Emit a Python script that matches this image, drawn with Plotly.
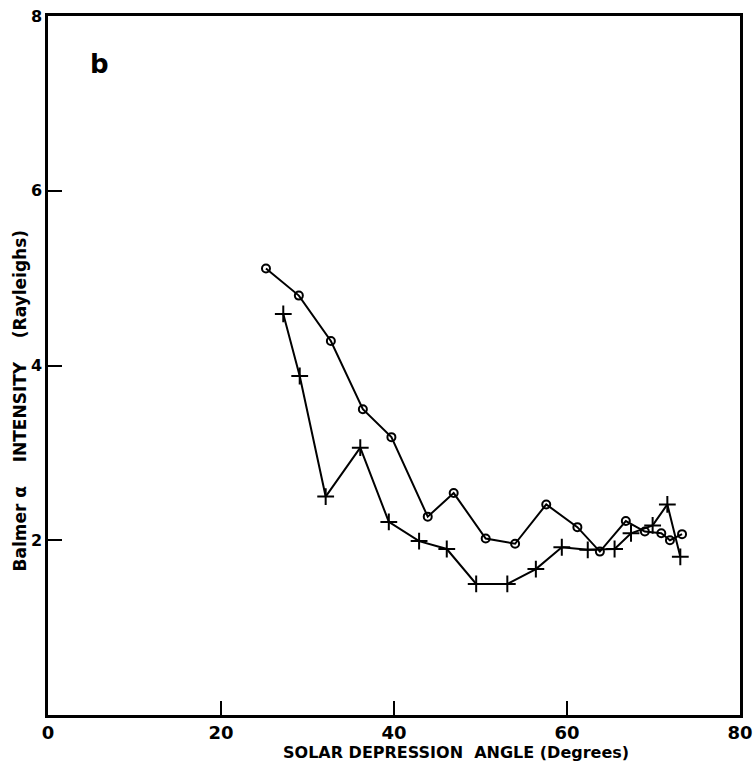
import plotly.graph_objects as go

# open circles series
circ_x = [25.2, 29.0, 32.7, 36.4, 39.7, 43.9, 46.9, 50.6, 54.0, 57.6, 61.2, 63.8, 66.8, 69.0, 70.9, 71.9, 73.3]
circ_y = [5.11, 4.80, 4.28, 3.50, 3.18, 2.27, 2.54, 2.02, 1.96, 2.41, 2.15, 1.87, 2.22, 2.10, 2.08, 2.00, 2.07]

# crosses series
cross_x = [27.2, 29.1, 32.1, 36.1, 39.4, 42.9, 46.1, 49.5, 53.1, 56.4, 59.4, 62.4, 65.5, 67.4, 69.9, 71.6, 73.1]
cross_y = [4.59, 3.88, 2.50, 3.06, 2.21, 1.99, 1.90, 1.50, 1.50, 1.67, 1.92, 1.89, 1.90, 2.08, 2.17, 2.41, 1.81]

x_ticks = [0, 20, 40, 60, 80]
y_ticks = [2, 4, 6, 8]

FONT = "DejaVu Sans"

fig = go.Figure()
fig.add_trace(go.Scatter(
    x=circ_x, y=circ_y, mode="lines+markers",
    line=dict(color="black", width=2),
    marker=dict(symbol="circle-open", size=8, color="black", line=dict(width=2)),
))
fig.add_trace(go.Scatter(
    x=cross_x, y=cross_y, mode="lines+markers",
    line=dict(color="black", width=2),
    marker=dict(symbol="cross-thin-open", size=12, color="black", line=dict(width=2)),
))

fig.update_layout(
    width=756, height=764,
    margin=dict(l=48, r=16, t=16, b=49),
    plot_bgcolor="white", paper_bgcolor="white",
    showlegend=False,
    font=dict(family=FONT, color="black", size=18, weight="bold"),
    xaxis=dict(range=[0, 80], tickvals=x_ticks, ticks="inside", ticklen=14, tickwidth=2,
               tickcolor="black", showgrid=False, zeroline=False, showline=True,
               linecolor="black", linewidth=2.5, mirror=True, automargin=False,
               tickfont=dict(family=FONT, size=18, color="black", weight="bold")),
    yaxis=dict(range=[0, 8], tickvals=y_ticks, ticks="inside", ticklen=14, tickwidth=2,
               tickcolor="black", showgrid=False, zeroline=False, showline=True,
               linecolor="black", linewidth=2.5, mirror=True, automargin=False,
               tickfont=dict(family=FONT, size=16, color="black", weight="bold")),
)

fig.add_annotation(text="SOLAR DEPRESSION  ANGLE (Degrees)", xref="paper", yref="paper",
                   x=0.59, y=0, yshift=-37, showarrow=False, xanchor="center", yanchor="middle",
                   font=dict(family=FONT, size=16, color="black", weight="bold"))
fig.add_annotation(text="Balmer α    INTENSITY    (Rayleighs)", xref="paper", yref="paper",
                   x=0, xshift=-28, y=0.45, showarrow=False, textangle=-90,
                   xanchor="center", yanchor="middle",
                   font=dict(family=FONT, size=17, color="black", weight="bold"))
fig.add_annotation(text="b", xref="paper", yref="paper", x=0.075, y=0.931,
                   showarrow=False, xanchor="center", yanchor="middle",
                   font=dict(family=FONT, size=26, color="black", weight="bold"))

# drop the browser's default 8px body margin so the figure fills the window
fig.write_html("out.html", config={"displayModeBar": False},
               post_script="document.body.style.margin='0px';")
